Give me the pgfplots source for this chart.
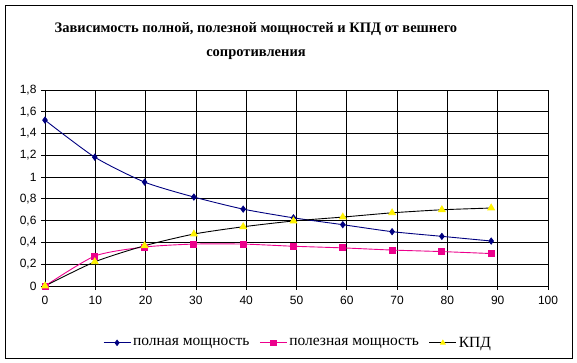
\documentclass[border=0pt]{standalone}
\usepackage{pgfplots}
\pgfplotsset{compat=1.18}
\usepackage{fontspec}
\setmainfont{Liberation Serif}
\newfontfamily\timesfont{Liberation Serif}
\newfontfamily\arial{Liberation Sans}
\definecolor{navy}{RGB}{0,0,128}
\begin{document}
\begin{tikzpicture}
\useasboundingbox (0pt,0pt) rectangle (577pt,363pt);
\draw[line width=0.8pt] (5pt,4.5pt) rectangle (572pt,358pt);
\node[align=center,font=\timesfont\fontsize{14.5}{24}\selectfont\bfseries] at (256pt,322pt) {Зависимость полной, полезной мощностей и КПД от вешнего\\сопротивления};
\begin{axis}[
  at={(45pt,77pt)}, anchor=south west,
  scale only axis, width=503pt, height=196pt,
  xmin=0, xmax=100, ymin=0, ymax=1.8,
  xtick={0,10,...,100}, ytick={0,0.2,...,1.8},
  grid=major, major grid style={black, line width=0.8pt},
  axis line style={black, line width=0.8pt},
  tick style={black, line width=0.8pt},
  tick align=outside, major tick length=4pt,
  axis lines*=left,
  ticklabel style={font=\arial\fontsize{12}{13}\selectfont},
  xticklabel style={yshift=-3pt},
  yticklabel style={xshift=-1pt},
  /pgf/number format/assume math mode=true,
  /pgf/number format/use comma,
  /pgf/number format/fixed,
  legend columns=3,
  legend style={draw=none, fill=none, at={(0.503,-0.29)}, anchor=center,
    font=\timesfont\fontsize{15.5}{16}\selectfont,
    /tikz/every even column/.append style={column sep=8pt},
    /tikz/every odd column/.append style={column sep=0pt}},
  legend cell align=left,
  legend image code/.code={\draw[mark repeat=2,mark phase=2,#1,mark size=2.6pt] plot coordinates {(0pt,0pt) (13.5pt,0pt) (27pt,0pt)};},
]
\addplot[navy, line width=0.9pt, smooth, tension=0.4, mark=diamond*, mark size=3pt, mark options={fill=navy}] coordinates {
(0,1.523) (9.9,1.183) (19.8,0.954) (29.6,0.817) (39.4,0.706) (49.4,0.626) (59.2,0.563) (69,0.499) (78.9,0.456) (88.7,0.413)};
\addlegendentry{полная мощность}
\addplot[magenta, line width=0.9pt, smooth, tension=0.4, mark=square*, mark size=3pt, mark options={fill=magenta}] coordinates {
(0,0) (9.9,0.275) (19.8,0.358) (29.6,0.385) (39.4,0.385) (49.4,0.365) (59.2,0.35) (69,0.33) (78.9,0.316) (88.7,0.298)};
\addlegendentry{полезная мощность}
\addplot[black, line width=0.9pt, smooth, tension=0.4, mark=triangle*, mark size=3.8pt, mark options={fill=yellow, draw=yellow}] coordinates {
(0,0) (9.9,0.222) (19.8,0.37) (29.6,0.477) (39.4,0.544) (49.4,0.597) (59.2,0.633) (69,0.672) (78.9,0.70) (88.7,0.716)};
\addlegendentry{КПД}
\end{axis}
\end{tikzpicture}
\end{document}
